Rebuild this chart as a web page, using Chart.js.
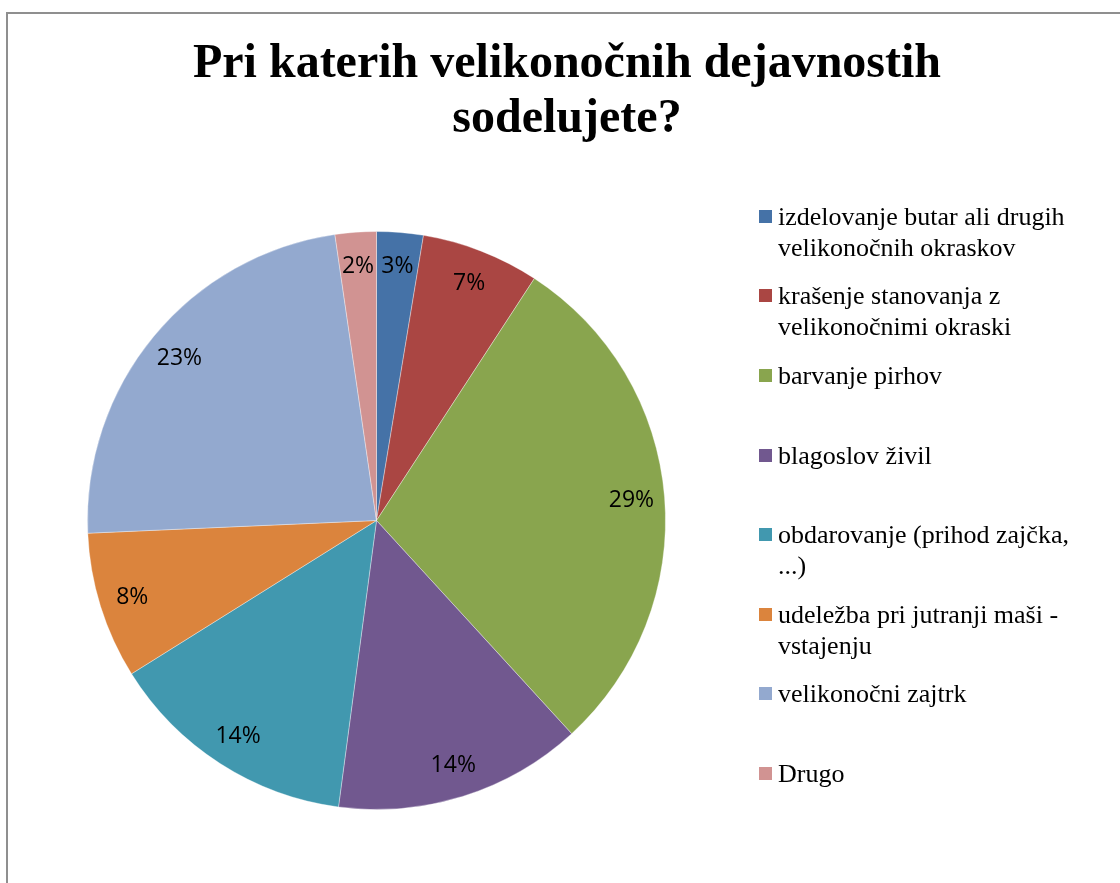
<!DOCTYPE html>
<html>
<head>
<meta charset="utf-8">
<script src="https://cdn.jsdelivr.net/npm/chart.js@4.4.1/dist/chart.umd.min.js"></script>
<style>
  html, body { margin: 0; padding: 0; background: #fff; }
  #wrap { position: relative; width: 1120px; height: 883px; overflow: hidden; background: #fff; }
  #frame { position: absolute; left: 6px; top: 12px; width: 1300px; height: 1000px;
           border-left: 2px solid #8f8f8f; border-top: 2px solid #8f8f8f; }
  #c { position: absolute; left: 0; top: 0; }
  #title { position: absolute; left: 0; top: 33px; width: 1134px; text-align: center;
           font-family: "Liberation Serif", "Times New Roman", serif; font-weight: bold;
           font-size: 48px; line-height: 55px; color: #000; }
  #legend { position: absolute; left: 0; top: 0; width: 1120px; height: 883px; pointer-events: none; }
  .item { position: absolute; left: 759px; font-family: "Liberation Serif", "Times New Roman", serif;
          font-size: 26px; line-height: 31px; color: #000; white-space: nowrap; }
  .mk { position: absolute; left: 0; top: 9px; width: 13px; height: 13px; }
  .tx { position: absolute; left: 19px; top: 0; }
</style>
</head>
<body>
<div id="wrap">
  <div id="frame"></div>
  <canvas id="c" width="1120" height="883"></canvas>
  <div id="title"></div>
  <div id="legend"></div>
</div>
<script>
// ---- data ----
const titleLines = ["Pri katerih velikonočnih dejavnostih", "sodelujete?"];
const categories = [
  ["izdelovanje butar ali drugih", "velikonočnih okraskov"],
  ["krašenje stanovanja z", "velikonočnimi okraski"],
  ["barvanje pirhov"],
  ["blagoslov živil"],
  ["obdarovanje (prihod zajčka,", "...)"],
  ["udeležba pri jutranji maši -", "vstajenju"],
  ["velikonočni zajtrk"],
  ["Drugo"]
];
const values = [2.6, 6.6, 29.0, 13.9, 14.0, 8.2, 23.4, 2.3];
const colors = ["#4572A7", "#AA4643", "#89A54E", "#71588F", "#4198AF", "#DB843D", "#93A9CF", "#D19392"];

// ---- title ----
document.getElementById('title').innerHTML = titleLines.map(t => '<div>' + t + '</div>').join('');

// ---- legend (HTML) ----
const legend = document.getElementById('legend');
categories.forEach((lines, i) => {
  const it = document.createElement('div');
  it.className = 'item';
  it.style.top = (200.7 + i * 79.6) + 'px';
  const mk = document.createElement('div');
  mk.className = 'mk';
  mk.style.background = colors[i];
  const tx = document.createElement('div');
  tx.className = 'tx';
  tx.innerHTML = lines.join('<br>');
  it.appendChild(mk);
  it.appendChild(tx);
  legend.appendChild(it);
});

// ---- percentage labels plugin ----
const pctLabels = {
  id: 'pctLabels',
  afterDatasetsDraw(chart) {
    const ctx = chart.ctx;
    const meta = chart.getDatasetMeta(0);
    const data = chart.data.datasets[0].data;
    const total = data.reduce((a, b) => a + b, 0);
    ctx.save();
    ctx.font = '23px "Open Sans", "Liberation Sans", sans-serif';
    ctx.fillStyle = '#000';
    ctx.textAlign = 'center';
    ctx.textBaseline = 'middle';
    meta.data.forEach((arc, i) => {
      const p = arc.getProps(['x', 'y', 'startAngle', 'endAngle', 'outerRadius'], true);
      const mid = (p.startAngle + p.endAngle) / 2;
      const r = p.outerRadius * 0.885;
      const x = p.x + Math.cos(mid) * r;
      const y = p.y + Math.sin(mid) * r;
      const pct = Math.round(data[i] / total * 100) + '%';
      ctx.fillText(pct, x, y + 1);
    });
    ctx.restore();
  }
};

new Chart(document.getElementById('c'), {
  type: 'pie',
  data: {
    labels: categories,
    datasets: [{
      data: values,
      backgroundColor: colors,
      borderColor: 'rgba(255,255,255,0.35)',
      borderWidth: 1
    }]
  },
  options: {
    responsive: false,
    animation: false,
    layout: { padding: { left: 87, top: 231, right: 454, bottom: 73 } },
    plugins: {
      legend: { display: false },
      title: { display: false },
      tooltip: { enabled: false }
    }
  },
  plugins: [pctLabels]
});
</script>
</body>
</html>
